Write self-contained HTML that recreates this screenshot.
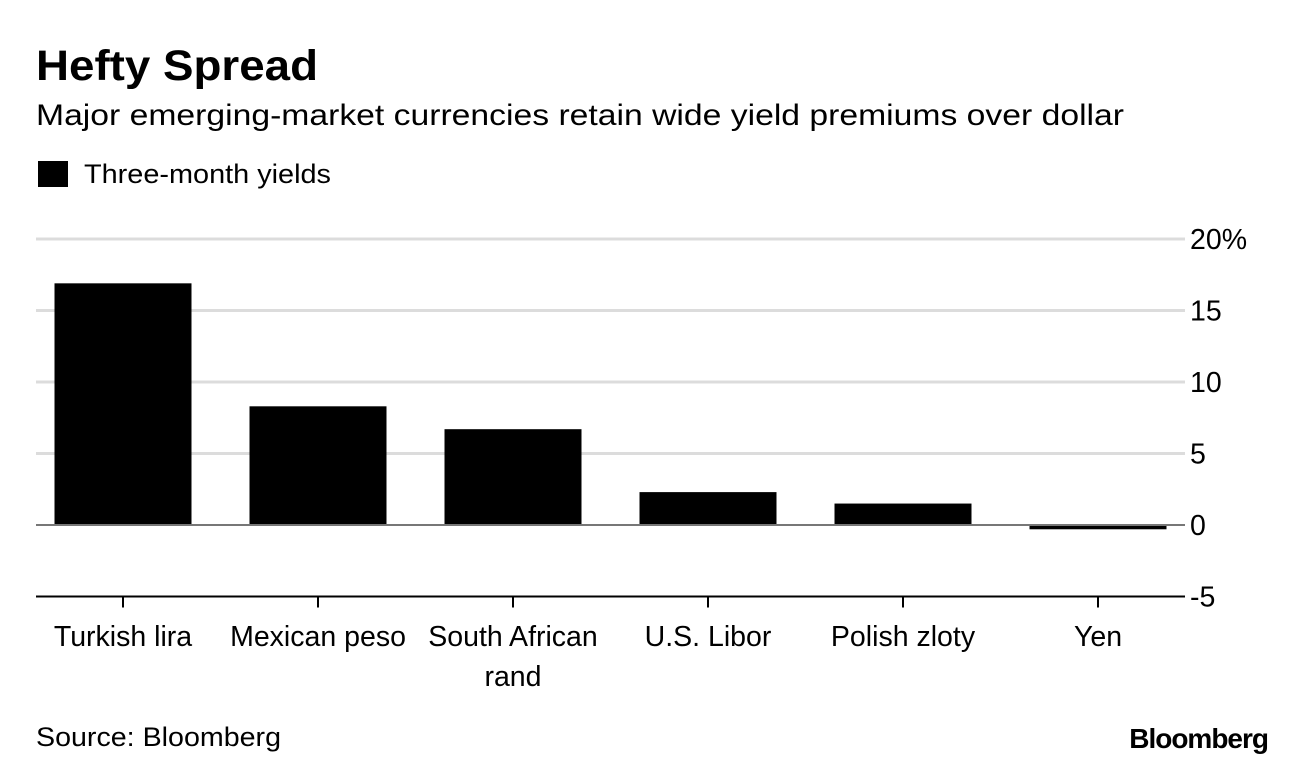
<!DOCTYPE html>
<html><head><meta charset="utf-8"><style>
body{margin:0;background:#fff;font-family:"Liberation Sans",sans-serif;}
svg{display:block}
</style></head><body>
<svg id="c" width="1296" height="768" xmlns="http://www.w3.org/2000/svg">
<text x="36" y="80" font-size="43" font-weight="bold" textLength="282" lengthAdjust="spacingAndGlyphs">Hefty Spread</text>
<text x="36" y="125" font-size="30" textLength="1088" lengthAdjust="spacingAndGlyphs">Major emerging-market currencies retain wide yield premiums over dollar</text>
<rect x="38" y="161" width="30" height="26" fill="#000"/>
<text x="84" y="183" font-size="27" textLength="247" lengthAdjust="spacingAndGlyphs">Three-month yields</text>
<g id="grid"></g><g id="bars"></g><g id="axes"></g>
<text x="36" y="746" font-size="27" textLength="245" lengthAdjust="spacingAndGlyphs">Source: Bloomberg</text>
<text x="1268" y="748" font-size="28" font-weight="bold" text-anchor="end" letter-spacing="-1">Bloomberg</text>
</svg>
<script>
const categories=[["Turkish lira"],["Mexican peso"],["South African","rand"],["U.S. Libor"],["Polish zloty"],["Yen"]];
const values=[16.9,8.3,6.7,2.3,1.5,-0.3];
const yTicks=[20,15,10,5,0,-5];
const yTickLabels=["20%","15","10","5","0","-5"];
const NS="http://www.w3.org/2000/svg";
const y=v=>525-(v*14.3);
const band=195,x0=25.5,bw=137;
const cx=i=>x0+band*i+band/2;
function mk(t,a,p){const e=document.createElementNS(NS,t);for(const k in a)e.setAttribute(k,a[k]);p.appendChild(e);return e;}
const grid=document.getElementById('grid'),bars=document.getElementById('bars'),axes=document.getElementById('axes');
yTicks.forEach((t,i)=>{
  if(t!==0&&t!==-5){const l=mk('line',{x1:36,x2:1185,y1:y(t),y2:y(t),stroke:'#dcdcdc','stroke-width':3},grid);
  
  }
  const tx=mk('text',{x:1190,y:y(t)+10,'font-size':28.5},axes);tx.textContent=yTickLabels[i];
  
  
});
values.forEach((v,i)=>{
  const r=mk('rect',{x:cx(i)-bw/2,y:Math.min(y(v),y(0)),width:bw,height:Math.abs(y(v)-y(0)),fill:'#000'},bars);
  
  
  const tk=mk('line',{x1:cx(i),x2:cx(i),y1:y(-5),y2:y(-5)+11,stroke:'#000','stroke-width':2},axes);
  
  
  categories[i].forEach((s,j)=>{const tx=mk('text',{x:cx(i),y:646+j*40,'font-size':28.5,'text-anchor':'middle'},axes);tx.textContent=s;
  
  });
});
const z=mk('line',{x1:36,x2:1185,y1:y(0),y2:y(0),stroke:'#777','stroke-width':2},axes);


const b=mk('line',{x1:36,x2:1185,y1:y(-5),y2:y(-5),stroke:'#000','stroke-width':2},axes);


</script>
</body></html>
